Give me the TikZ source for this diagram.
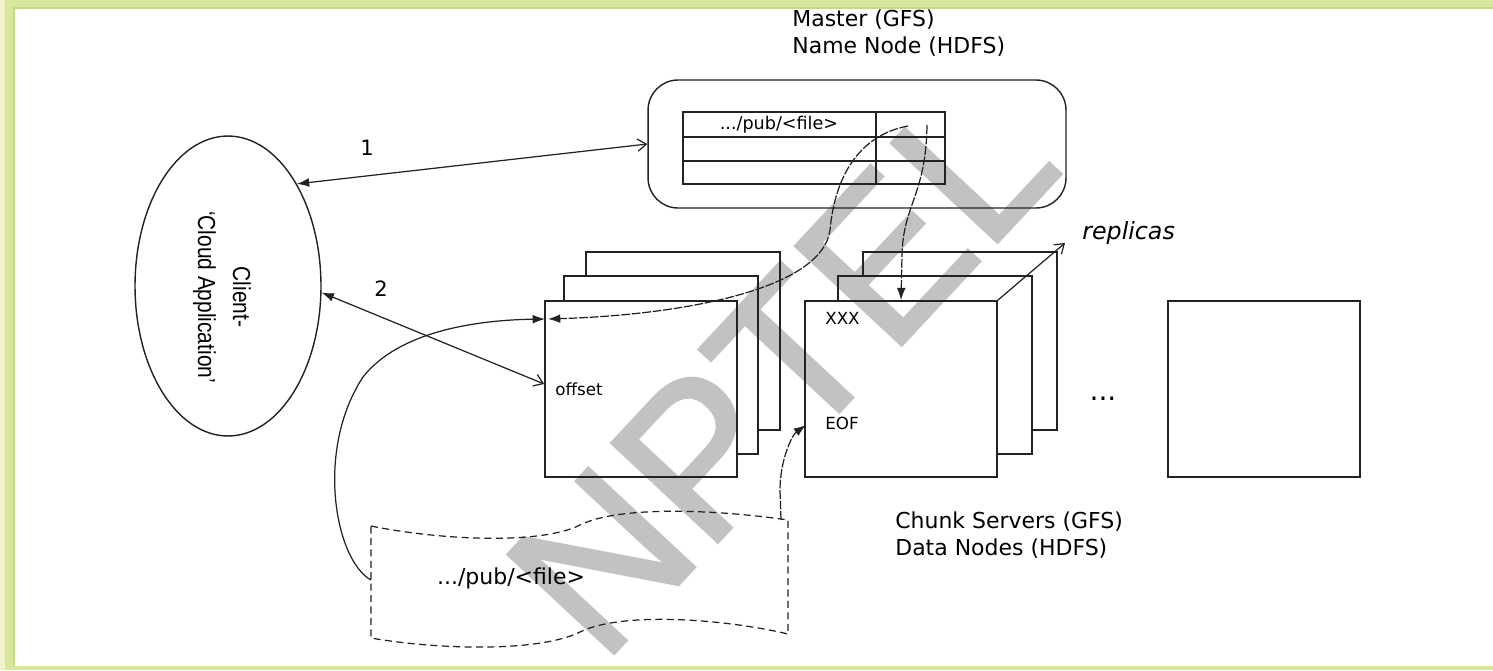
\documentclass[tikz,border=0pt]{standalone}
\usepackage{fontspec}
\setmainfont{DejaVu Sans}
\newfontfamily\narrowfont[FakeStretch=0.85]{Liberation Sans}
\newfontfamily\markfont[FakeBold=1.5]{Liberation Sans}
\usetikzlibrary{shapes.geometric, arrows.meta, positioning, calc}
\definecolor{FrameGreen}{HTML}{D8E79C}
\definecolor{FrameLight}{HTML}{F3F1C8}
\definecolor{FrameEdge}{HTML}{C3D98E}
\definecolor{InkGrey}{HTML}{222222}
\definecolor{MarkGrey}{HTML}{C2C2C2}
\tikzset{
    % Default text
    every node/.style={font=\fontsize{12.5}{15}\selectfont, inner sep=0pt},
    % Chunk page (front)
    chunk/.style={
        rectangle,
        draw=InkGrey,
        line width=1pt,
        minimum width=3.84cm,
        minimum height=3.52cm
    },
    % Chunk page behind (outline drawn by hand)
    chunkback/.style={
        chunk,
        draw=none
    },
    % Visible edge of a page behind
    pageedge/.style={
        draw=InkGrey,
        line width=1pt
    },
    % Master box
    master/.style={
        rectangle,
        rounded corners=0.6cm,
        draw=InkGrey,
        line width=0.8pt,
        minimum width=8.36cm,
        minimum height=2.56cm
    },
    % Client ellipse
    client/.style={
        ellipse,
        draw=InkGrey,
        line width=0.8pt,
        minimum width=3.72cm,
        minimum height=6cm
    },
    % Small page text
    pagetext/.style={
        font=\fontsize{9.5}{11}\selectfont,
        anchor=west
    },
    % Two-way request arrow
    biarrow/.style={
        {Latex[length=7pt,width=5pt]}-{Straight Barb[length=5pt,width=7pt]},
        line width=0.7pt,
        draw=InkGrey
    },
    % Pointer arrow
    linkarrow/.style={
        -{Latex[length=7pt,width=5pt]},
        line width=0.7pt,
        draw=InkGrey
    },
    % Dashed pointer
    dashlink/.style={
        linkarrow,
        dash pattern=on 5pt off 1pt
    }
}
\begin{document}
\begin{tikzpicture}[x=0.02cm, y=-0.02cm]
    \useasboundingbox (0,0) rectangle (1493,670);

    % Frame
    \fill[FrameGreen] (0,0) rectangle (1493,670);
    \fill[FrameLight] (0,0) rectangle (5,670);
    \fill[white] (14,8) rectangle (1493,666);
    \draw[FrameEdge, line width=1pt] (14,666) -- (14,8) -- (1493,8);

    % Watermark
    \node (mark) [font=\markfont\fontsize{120}{120}\selectfont, text=MarkGrey, rotate=47] at (781,368) {NPTEL};

    % Master
    \node (mtitle) [anchor=west, align=left] at (792,33) {Master (GFS)\\Name Node (HDFS)};
    \node (master) [master] at (857,144) {};
    \draw[InkGrey, line width=0.9pt] (683,112) rectangle (945,184);
    \draw[InkGrey, line width=0.9pt] (683,137) -- (945,137);
    \draw[InkGrey, line width=0.9pt] (683,161) -- (945,161);
    \draw[InkGrey, line width=0.9pt] (876,112) -- (876,184);
    \node (tabfile) [font=\fontsize{10}{12}\selectfont] at (779,125) {.../pub/<file>};

    % Client
    \node (client) [client] at (228,286) {};
    \node (clienttxt) [font=\narrowfont\fontsize{14}{20}\selectfont, align=center, rotate=-90] at (222,297) {Client-\\‘Cloud Application’};

    % Left chunk stack
    \node (lback) [chunkback] at (683,341) {};
    \node (lmid) [chunkback] at (661,365) {};
    \node (lfront) [chunk] at (641,389) {};
    \draw [pageedge] (lmid.west |- lfront.north) -- (lmid.north west) -- (lmid.north east)
        -- (lmid.south east) -- (lfront.east |- lmid.south);
    \draw [pageedge] (lback.west |- lmid.north) -- (lback.north west) -- (lback.north east)
        -- (lback.south east) -- (lmid.east |- lback.south);
    \node (offset) [pagetext] at (555,389) {offset};

    % Right chunk stack
    \node (rback) [chunkback] at (960,341) {};
    \node (rmid) [chunkback] at (935,365) {};
    \node (rfront) [chunk] at (901,389) {};
    \draw [pageedge] (rmid.west |- rfront.north) -- (rmid.north west) -- (rmid.north east)
        -- (rmid.south east) -- (rfront.east |- rmid.south);
    \draw [pageedge] (rback.west |- rmid.north) -- (rback.north west) -- (rback.north east)
        -- (rback.south east) -- (rmid.east |- rback.south);
    \node (xxx) [pagetext] at (825,318) {XXX};
    \node (eof) [pagetext] at (825,423) {EOF};

    % Replicas
    \coordinate (reptip) at (1065,243);
    \draw [InkGrey, line width=0.7pt, -{Straight Barb[length=5pt,width=7pt]}] (rfront.north east) -- (reptip);
    \node (replicas) [font=\itshape\fontsize{13.5}{16}\selectfont, anchor=west] at (1082,233) {replicas};

    % Other servers
    \node (dots) [font=\fontsize{16}{16}\selectfont] at (1103,399) {...};
    \node (lone) [chunk] at (1264,389) {};
    \node (ctitle) [anchor=west, align=left] at (895,535) {Chunk Servers (GFS)\\Data Nodes (HDFS)};

    % File document
    \draw[InkGrey, line width=0.7pt, dash pattern=on 4pt off 2.5pt]
        (371,526) .. controls (440,540) and (540,545) .. (580,525)
        .. controls (620,505) and (720,510) .. (788,520) -- (788,634)
        .. controls (720,618) and (620,612) .. (580,632)
        .. controls (540,652) and (440,650) .. (371,638) -- cycle;
    \node (doc) at (511,578) {.../pub/<file>};
    \coordinate (docleft) at (371,580);
    \coordinate (doctop) at (781,520);
    \coordinate (lhit) at (545,319);
    \coordinate (lhitr) at (548,319);
    \coordinate (ehit) at (806,425);

    % Requests
    \draw [biarrow] (client.56) -- (master.west);
    \node (one) [font=\fontsize{12}{14}\selectfont] at (367,148) {1};
    \draw [biarrow] (client.-4) -- ([yshift=0.1cm]lfront.west);
    \node (two) [font=\fontsize{12}{14}\selectfont] at (381,289) {2};

    % Pointers
    \draw [linkarrow] (docleft) .. controls (335,560) and (315,450) .. (363,377)
        .. controls (400,330) and (480,320) .. (lhit);
    \draw [dashlink] (908,126) .. controls (860,135) and (835,175) .. (830,230)
        .. controls (822,290) and (680,315) .. (lhitr);
    \draw [dashlink] (927,125) .. controls (926,195) and (903,205) .. (902,255) -- (rfront.north);
    \draw [dashlink] (doctop) -- (780,490) .. controls (780,460) and (792,435) .. (ehit);
\end{tikzpicture}
\end{document}
